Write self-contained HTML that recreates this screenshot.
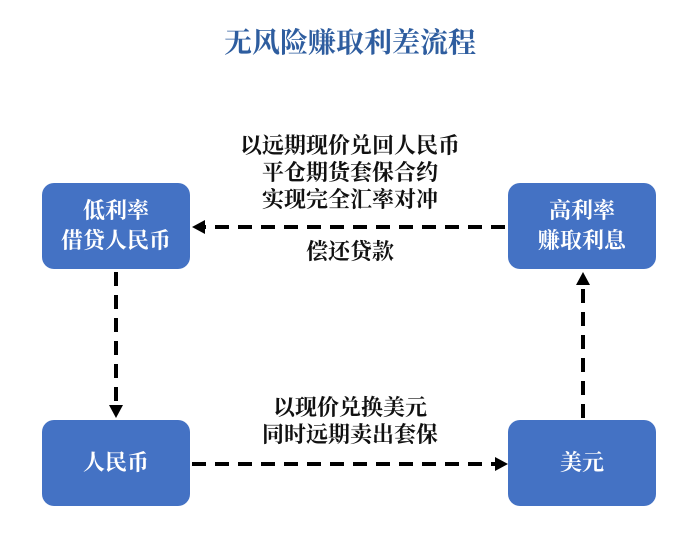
<!DOCTYPE html>
<html><head><meta charset="utf-8"><style>
body{margin:0;background:#fff;width:700px;height:538px;position:relative;overflow:hidden;font-family:"Liberation Serif","Noto Serif CJK SC",serif;}
.t{position:absolute;left:0;width:700px;top:21px;text-align:center;font-size:28px;font-weight:bold;color:#2e5d9f;}
.b{position:absolute;width:148px;height:86px;background:#4472c4;border-radius:12px;color:#fff;font-weight:bold;font-size:22px;line-height:30px;display:flex;align-items:center;justify-content:center;text-align:center;}
.l{position:absolute;text-align:center;font-weight:bold;font-size:22px;line-height:27px;color:#111;}
</style></head><body>
<div class="t">无风险赚取利差流程</div>
<div class="b" style="left:42px;top:183px">低利率<br>借贷人民币</div>
<div class="b" style="left:508px;top:183px">高利率<br>赚取利息</div>
<div class="b" style="left:42px;top:420px">人民币</div>
<div class="b" style="left:508px;top:420px">美元</div>
<div class="l" style="left:190px;width:320px;top:132px">以远期现价兑回人民币<br>平仓期货套保合约<br>实现完全汇率对冲</div>
<div class="l" style="left:190px;width:320px;top:238px">偿还贷款</div>
<div class="l" style="left:190px;width:320px;top:394px">以现价兑换美元<br>同时远期卖出套保</div>
<svg width="700" height="538" style="position:absolute;left:0;top:0">
<g stroke="#000" stroke-width="4" stroke-dasharray="14 9" fill="none">
<line x1="505" y1="227" x2="204" y2="227"/>
<line x1="116" y1="272" x2="116" y2="405"/>
<line x1="192" y1="464" x2="496" y2="464"/>
<line x1="583" y1="418" x2="583" y2="284"/>
</g>
<polygon points="192,227 205,220 205,234"/>
<polygon points="116,418 109,405 123,405"/>
<polygon points="508,464 495,457 495,471"/>
<polygon points="583,272 576,285 590,285"/>
</svg>
</body></html>
